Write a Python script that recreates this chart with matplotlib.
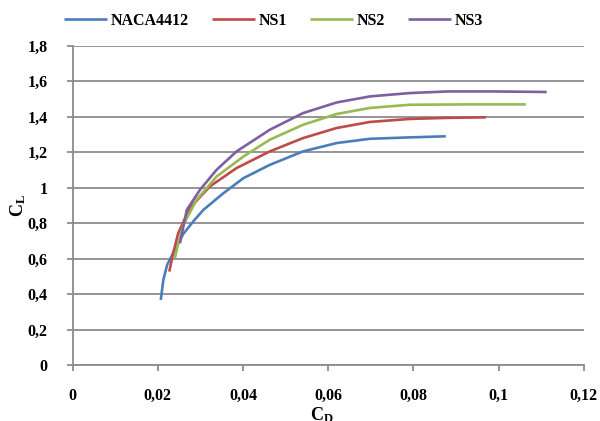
import matplotlib.pyplot as plt
from matplotlib.ticker import FuncFormatter

# Polar data: drag coefficient vs lift coefficient for each airfoil
cd_naca = [0.0207, 0.0213, 0.0222, 0.0240, 0.0260, 0.0285, 0.0307, 0.0354,
           0.0401, 0.0463, 0.0541, 0.0620, 0.0698, 0.0792, 0.0876]
cl_naca = [0.367, 0.480, 0.565, 0.650, 0.740, 0.815, 0.875, 0.969,
           1.054, 1.129, 1.205, 1.252, 1.276, 1.284, 1.290]

cd_ns1 = [0.0227, 0.0236, 0.0248, 0.0275, 0.0322, 0.0385, 0.0463, 0.0541,
          0.0620, 0.0698, 0.0792, 0.0880, 0.0970]
cl_ns1 = [0.527, 0.631, 0.744, 0.885, 1.007, 1.111, 1.205, 1.280,
          1.337, 1.371, 1.388, 1.394, 1.397]

cd_ns2 = [0.0240, 0.0248, 0.0260, 0.0291, 0.0338, 0.0401, 0.0463, 0.0541,
          0.0620, 0.0698, 0.0792, 0.0930, 0.1064]
cl_ns2 = [0.603, 0.687, 0.790, 0.932, 1.063, 1.176, 1.271, 1.355,
          1.416, 1.450, 1.468, 1.470, 1.470]

cd_ns3 = [0.0252, 0.0260, 0.0268, 0.0299, 0.0338, 0.0385, 0.0463, 0.0541,
          0.0620, 0.0698, 0.0792, 0.0880, 0.0990, 0.1113]
cl_ns3 = [0.687, 0.781, 0.875, 0.988, 1.101, 1.205, 1.327, 1.421,
          1.481, 1.515, 1.534, 1.543, 1.543, 1.540]

labels = ['NACA4412', 'NS1', 'NS2', 'NS3']
colors = ['#4A7EBB', '#BE4B48', '#98B954', '#7D60A0']

plt.rcParams['font.family'] = 'Liberation Serif'
plt.rcParams['font.weight'] = 'bold'
plt.rcParams['mathtext.fontset'] = 'custom'
plt.rcParams['mathtext.rm'] = 'Liberation Serif:bold'
plt.rcParams['mathtext.bf'] = 'Liberation Serif:bold'

fig = plt.figure(figsize=(6, 4.21), dpi=100)
ax = fig.add_axes([0.121, 0.133, 0.852, 0.758])

series = [(cd_naca, cl_naca), (cd_ns1, cl_ns1), (cd_ns2, cl_ns2), (cd_ns3, cl_ns3)]
for (x, y), lab, c in zip(series, labels, colors):
    ax.plot(x, y, color=c, lw=1.9, label=lab, solid_capstyle='butt',
            solid_joinstyle='round')

ax.set_xlim(0, 0.12)
ax.set_ylim(0, 1.8)
ax.set_xticks([0, 0.02, 0.04, 0.06, 0.08, 0.1, 0.12])
ax.set_yticks([0, 0.2, 0.4, 0.6, 0.8, 1.0, 1.2, 1.4, 1.6, 1.8])

def comma(v, pos):
    s = ('%.2f' % v).rstrip('0').rstrip('.')
    return s.replace('.', ',')

ax.xaxis.set_major_formatter(FuncFormatter(comma))
ax.yaxis.set_major_formatter(FuncFormatter(comma))

ax.grid(axis='y', color='#8c8c8c', lw=1.3)
ax.set_axisbelow(True)
for s in ['top', 'right']:
    ax.spines[s].set_visible(False)
for s in ['left', 'bottom']:
    ax.spines[s].set_color('#8c8c8c')
    ax.spines[s].set_linewidth(1.3)
ax.tick_params(axis='both', colors='#8c8c8c', length=4, width=1.3,
               labelcolor='black', labelsize=11.5)
ax.tick_params(axis='y', pad=14)
ax.tick_params(axis='x', pad=12.5)

ax.set_xlabel(r'$\mathbf{C_D}$', fontsize=13)
ax.set_ylabel(r'$\mathbf{C_L}$', fontsize=13)
ax.xaxis.set_label_coords(0.488, -0.125)
ax.yaxis.set_label_coords(-0.088, 0.5)

fig.legend(loc='center', bbox_to_anchor=(273.5 / 600, 1 - 21 / 421), ncol=4,
           frameon=False, fontsize=11.5, handlelength=2.7, handletextpad=0.25,
           columnspacing=1.4)

fig.savefig('out.png', dpi=100)
